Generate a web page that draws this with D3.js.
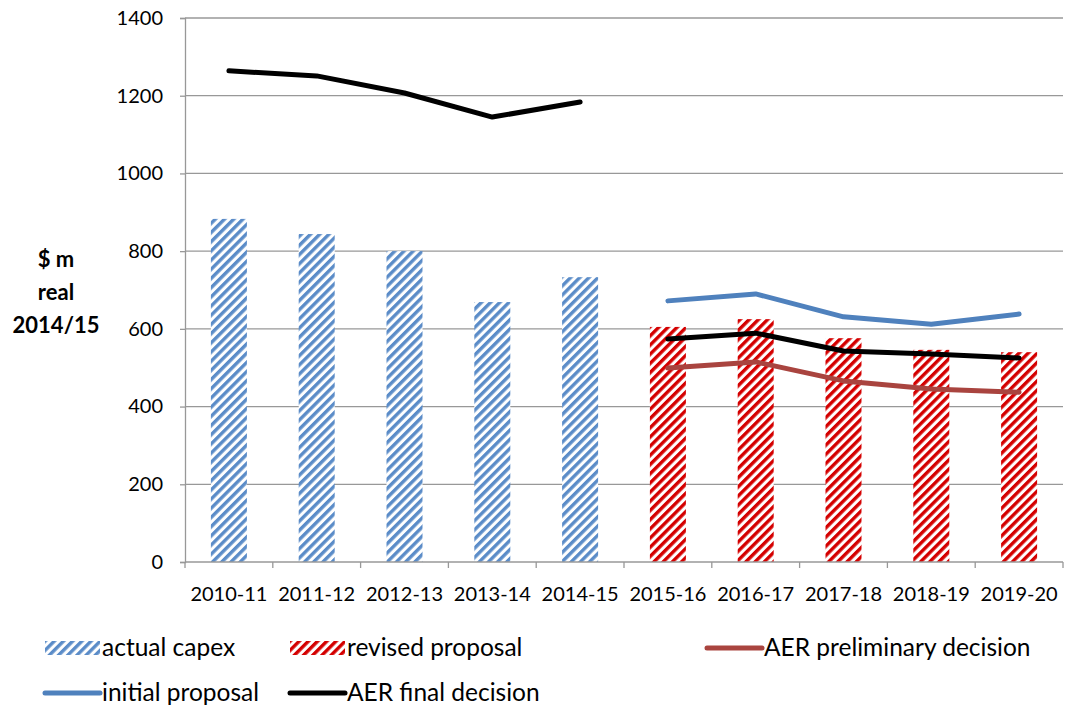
<!DOCTYPE html>
<html>
<head>
<meta charset="utf-8">
<script src="https://cdn.jsdelivr.net/npm/d3@7"></script>
<style>
  body { margin: 0; background: #fff; }
  svg { font-family: Lato, "Open Sans", sans-serif; }
</style>
</head>
<body>
<svg id="chart" width="1070" height="709"></svg>
<script>
var years = ['2010-11', '2011-12', '2012-13', '2013-14', '2014-15',
             '2015-16', '2016-17', '2017-18', '2018-19', '2019-20'];
var actualCapex = [883, 844, 800, 669, 733, null, null, null, null, null];
var revisedProposal = [null, null, null, null, null, 605, 625, 576, 546, 540];
var initialProposal = [null, null, null, null, null, 672, 690, 631, 612, 638];
var aerPreliminary = [null, null, null, null, null, 499, 515, 466, 445, 437];
var aerFinal = [1264, 1251, 1207, 1145, 1184, 574, 589, 543, 535, 525];
var yTicks = [0, 200, 400, 600, 800, 1000, 1200, 1400];

var svg = d3.select('#chart');

var plotLeft = 185, plotRight = 1063, plotTop = 18, plotBottom = 562;

var x = d3.scaleBand().domain(years).range([plotLeft, plotRight]);
var y = d3.scaleLinear().domain([0, 1400]).range([plotBottom, plotTop]);

// hatch patterns
var defs = svg.append('defs');
function hatch(id, colour) {
    var p = defs.append('pattern')
        .attr('id', id)
        .attr('patternUnits', 'userSpaceOnUse')
        .attr('width', 6.5).attr('height', 6.5)
        .attr('patternTransform', 'rotate(45)');
    p.append('rect').attr('width', 6.5).attr('height', 6.5).attr('fill', '#fff');
    p.append('rect').attr('width', 3.4).attr('height', 6.5).attr('fill', colour);
}
hatch('blueHatch', '#5b8cc8');
hatch('redHatch', '#d40000');

// grid
svg.append('g').selectAll('line')
    .data(yTicks.slice(1))
    .enter().append('line')
    .attr('x1', plotLeft).attr('x2', plotRight)
    .attr('y1', function (d) { return y(d); })
    .attr('y2', function (d) { return y(d); })
    .attr('stroke', '#989898').attr('stroke-width', 1.3);

// bars
var barWidth = 36;
function bars(data, fill) {
    svg.append('g').selectAll('rect')
        .data(data.map(function (v, i) { return { year: years[i], value: v }; })
            .filter(function (d) { return d.value != null; }))
        .enter().append('rect')
        .attr('x', function (d) { return x(d.year) + x.bandwidth() / 2 - barWidth / 2; })
        .attr('y', function (d) { return y(d.value); })
        .attr('width', barWidth)
        .attr('height', function (d) { return y(0) - y(d.value); })
        .attr('fill', fill);
}
bars(actualCapex, 'url(#blueHatch)');
bars(revisedProposal, 'url(#redHatch)');

// axes
var yAxis = d3.axisLeft(y).tickValues(yTicks).tickSize(5).tickPadding(17)
    .tickFormat(d3.format('d'));
var gy = svg.append('g').attr('transform', 'translate(' + plotLeft + ',0)').call(yAxis);
gy.select('.domain').attr('stroke', '#989898').attr('stroke-width', 1.3);
gy.selectAll('.tick line').attr('stroke', '#989898').attr('stroke-width', 1.3);
gy.selectAll('text').attr('font-size', 20).attr('fill', '#000')
    .attr('font-family', 'Lato, sans-serif');

var gx = svg.append('g').attr('transform', 'translate(0,' + plotBottom + ')');
gx.append('line').attr('x1', plotLeft).attr('x2', plotRight)
    .attr('stroke', '#989898').attr('stroke-width', 1.3);
gx.selectAll('line.tk')
    .data(years.concat(['end']))
    .enter().append('line')
    .attr('class', 'tk')
    .attr('x1', function (d, i) { return plotLeft + i * x.bandwidth(); })
    .attr('x2', function (d, i) { return plotLeft + i * x.bandwidth(); })
    .attr('y1', 0).attr('y2', 6)
    .attr('stroke', '#989898').attr('stroke-width', 1.3);
gx.selectAll('text')
    .data(years)
    .enter().append('text')
    .attr('x', function (d) { return x(d) + x.bandwidth() / 2; })
    .attr('y', 39)
    .attr('text-anchor', 'middle')
    .attr('font-size', 20)
    .text(function (d) { return d; });

// lines
var line = d3.line()
    .defined(function (d) { return d.value != null; })
    .x(function (d) { return x(d.year) + x.bandwidth() / 2; })
    .y(function (d) { return y(d.value); });

function series(data, colour, segments) {
    segments.forEach(function (seg) {
        var pts = data.map(function (v, i) { return { year: years[i], value: v }; })
            .slice(seg[0], seg[1]);
        svg.append('path')
            .attr('d', line(pts))
            .attr('fill', 'none')
            .attr('stroke', colour)
            .attr('stroke-width', 5)
            .attr('stroke-linecap', 'round')
            .attr('stroke-linejoin', 'round');
    });
}
series(initialProposal, '#4f81bd', [[5, 10]]);
series(aerPreliminary, '#a9443f', [[5, 10]]);
series(aerFinal, '#000', [[0, 5], [5, 10]]);

// y title
var title = svg.append('text')
    .attr('text-anchor', 'middle')
    .attr('font-weight', 'bold')
    .attr('font-size', 22);
['$ m', 'real', '2014/15'].forEach(function (t, i) {
    title.append('tspan').attr('x', 56).attr('y', 267 + i * 33).text(t);
});

// legend
var legend = [
    { label: 'actual capex', type: 'bar', fill: 'url(#blueHatch)', x: 45, y: 648 },
    { label: 'revised proposal', type: 'bar', fill: 'url(#redHatch)', x: 290, y: 648 },
    { label: 'AER preliminary decision', type: 'line', fill: '#a9443f', x: 707, y: 648 },
    { label: 'initial proposal', type: 'line', fill: '#4f81bd', x: 45, y: 693 },
    { label: 'AER final decision', type: 'line', fill: '#000', x: 290, y: 693 }
];
var lg = svg.append('g').selectAll('g')
    .data(legend)
    .enter().append('g')
    .attr('transform', function (d) { return 'translate(' + d.x + ',' + d.y + ')'; });
lg.filter(function (d) { return d.type === 'bar'; })
    .append('rect')
    .attr('x', 0).attr('y', -7).attr('width', 55).attr('height', 14)
    .attr('fill', function (d) { return d.fill; });
lg.filter(function (d) { return d.type === 'line'; })
    .append('line')
    .attr('x1', 0).attr('x2', 55).attr('y1', 0).attr('y2', 0)
    .attr('stroke', function (d) { return d.fill; })
    .attr('stroke-width', 5)
    .attr('stroke-linecap', 'round');
lg.append('text')
    .attr('x', 57).attr('y', 8)
    .attr('font-size', 24.5)
    .text(function (d) { return d.label; });
</script>
</body>
</html>
